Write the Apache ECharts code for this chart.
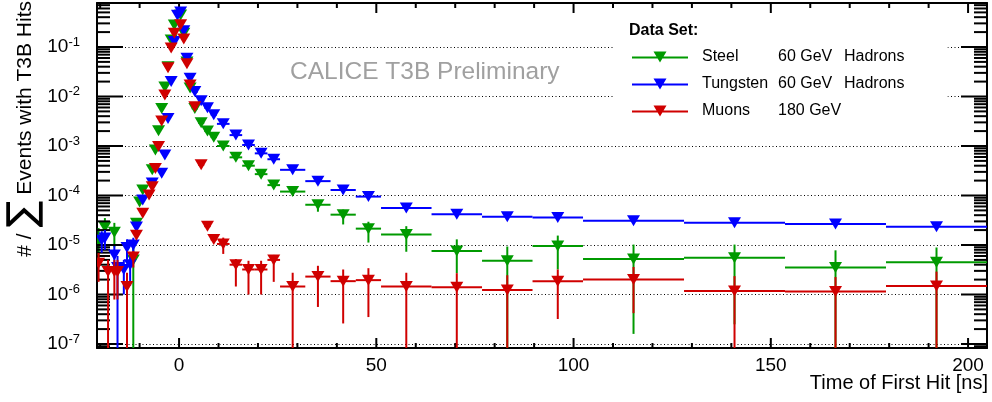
<!DOCTYPE html>
<html>
<head>
<meta charset="utf-8">
<title>T3B time of first hit</title>
<script src="https://cdn.jsdelivr.net/npm/echarts@6/dist/echarts.min.js"></script>
<style>
  html, body { margin: 0; padding: 0; background: #fff; }
  #chart { width: 992px; height: 402px; }
</style>
</head>
<body>
<div id="chart"></div>
<script>
// bin centres in ns: 0.8 ns bins up to 3.2 ns, wider bins in the tail
var fineT = [-20.4, -19.6, -18.8, -18.0, -17.2, -16.4, -15.6, -14.8, -14.0, -13.2,
             -12.4, -11.6, -10.8, -10.0, -9.2, -8.4, -7.6, -6.8, -6.0, -5.2,
             -4.4, -3.6, -2.8, -2.0, -1.2, -0.4, 0.4, 1.2, 2.0, 2.8];
var fineW = 0.8;
var tailT = [4.0, 5.6, 7.2, 8.8, 11.2, 14.4, 17.6, 20.8, 24.0, 28.8, 35.2, 41.6, 48.0,
             57.6, 70.4, 83.2, 96.0, 115.2, 140.8, 166.4, 192.0];
var tailW = [1.6, 1.6, 1.6, 1.6, 3.2, 3.2, 3.2, 3.2, 3.2, 6.4, 6.4, 6.4, 6.4,
             12.8, 12.8, 12.8, 12.8, 25.6, 25.6, 25.6, 25.6];

// Steel 60 GeV hadrons (null = empty bin, 0 = error bar reaches the axis)
var steelFine = [1.17e-5, null, 2.3e-5, null, null, 1.8e-5, null, null, null, null,
                 null, 5.0e-6, 2.75e-5, 7.4e-5, 1.29e-4, null, null, 3.3e-4, 8.3e-4, 2.04e-3,
                 5.75e-3, 1.55e-2, 4.0e-2, 0.138, 0.278, null, 0.443, 0.19, 0.05, 1.48e-2];
var steelFineLo = [4e-6, null, 1.2e-5, null, null, 9e-6, null, null, null, null,
                   null, 0, null, null, null, null, null, null, null, null,
                   null, null, null, null, null, null, null, null, null, null];
var steelFineHi = [2.2e-5, null, 3.5e-5, null, null, 2.8e-5, null, null, null, null,
                   null, 9.3e-6, null, null, null, null, null, null, null, null,
                   null, null, null, null, null, null, null, null, null, null];
var steelTail = [5.75e-3, 2.95e-3, 2.0e-3, 1.51e-3, 1.0e-3, 5.9e-4, 4.0e-4, 2.7e-4, 1.62e-4, 1.2e-4,
                 6.5e-5, 4.1e-5, 2.14e-5, 1.62e-5, 7.6e-6, 4.8e-6, 9.5e-6, 5.2e-6, 5.5e-6, 3.5e-6, 4.5e-6];
var steelTailLo = [null, null, null, null, null, null, null, null, null, null,
                   4.7e-5, 2.6e-5, 1.12e-5, 7.3e-6, 2.7e-6, 0, 3.2e-6, 1.6e-7, 2.5e-7, 0, 0];
var steelTailHi = [null, null, null, null, null, null, null, null, null, null,
                   8.1e-5, 5.2e-5, 2.95e-5, 2.4e-5, 1.3e-5, 9.3e-6, 1.55e-5, 1.02e-5, 1.02e-5, 7.8e-6, 8.9e-6];

// Tungsten 60 GeV hadrons
var tungstenFine = [null, 1.26e-5, 1.38e-5, null, null, 6.3e-6, 3.5e-6, null, 3.2e-6, 8.9e-6,
                    4.0e-6, 1.0e-5, 2.3e-5, null, 8.1e-5, null, null, 1.78e-4, null, null,
                    2.8e-4, 6.6e-4, 3.6e-3, 2.0e-2, 0.129, 0.44, 0.51, 0.214, 5.9e-2, 2.34e-2];
var tungstenFineLo = [null, 7e-6, 8e-6, null, null, 3e-6, 0, null, 1e-6, 5e-6,
                      1.5e-6, 6e-6, null, null, null, null, null, null, null, null,
                      null, null, null, null, null, null, null, null, null, null];
var tungstenFineHi = [null, 1.9e-5, 2.0e-5, null, null, 9.5e-6, 6e-6, null, 5e-6, 1.3e-5,
                      6.5e-6, 1.4e-5, null, null, null, null, null, null, null, null,
                      null, null, null, null, null, null, null, null, null, null];
var tungstenTail = [1.26e-2, 8.2e-3, 5.9e-3, 4.3e-3, 2.8e-3, 1.66e-3, 1.05e-3, 7.1e-4, 5.4e-4, 3.3e-4,
                    1.95e-4, 1.29e-4, 9.5e-5, 5.6e-5, 4.2e-5, 3.7e-5, 3.6e-5, 3.1e-5, 2.8e-5, 2.65e-5, 2.35e-5];

// Muons 180 GeV
var muonFine = [4.3e-6, null, null, 2.9e-6, null, 2.9e-6, 2.9e-6, null, null, 1.45e-6,
                null, 5.75e-6, 1.58e-5, null, 4.4e-5, null, 1.02e-4, 1.51e-4, 3.5e-4, 9.8e-4,
                3.2e-3, 1.07e-2, 3.8e-2, 9.5e-2, 0.19, null, 0.28, 0.145, 4.6e-2, 1.7e-2];
var muonFineLo = [1.8e-6, null, null, 0, null, 7.9e-7, 7.9e-7, null, null, 0,
                  null, 3.5e-6, null, null, null, null, null, null, null, null,
                  null, null, null, null, null, null, null, null, null, null];
var muonFineHi = [6.9e-6, null, null, 5e-6, null, 5e-6, 5e-6, null, null, 2.75e-6,
                  null, 7.5e-6, null, null, null, null, null, null, null, null,
                  null, null, null, null, null, null, null, null, null, null];
var muonTail = [6.2e-3, 4.2e-4, 2.4e-5, 1.29e-5, 1.05e-5, 4.0e-6, 3.2e-6, 3.2e-6, 5.0e-6, 1.45e-6,
                2.3e-6, 1.86e-6, 1.95e-6, 1.45e-6, 1.4e-6, 1.23e-6, 1.86e-6, 2.0e-6, 1.17e-6, 1.15e-6, 1.48e-6];
var muonTailLo = [null, null, null, null, 6.6e-6, 1.45e-6, 1.0e-6, 1.0e-6, 1.8e-6, 0,
                  5.6e-7, 2.6e-7, 3.5e-7, 0, 0, 0, 3.2e-7, 4.2e-7, 0, 0, 0];
var muonTailHi = [null, null, null, null, 1.41e-5, 5.2e-6, 4.8e-6, 4.8e-6, 6.3e-6, 2.75e-6,
                  3.8e-6, 3.2e-6, 3.4e-6, 2.75e-6, 2.7e-6, 2.45e-6, 3.2e-6, 3.6e-6, 2.35e-6, 2.25e-6, 2.9e-6];

var seriesNames = ['Steel', 'Tungsten', 'Muons'];
var seriesEnergy = ['60 GeV', '60 GeV', '180 GeV'];
var seriesKind = ['Hadrons', 'Hadrons', ''];
var seriesColors = ['#009a00', '#0000ff', '#d00000'];

var X_MIN = -20.8, X_MAX = 204.8;
var Y_MIN = 8.3e-8, Y_MAX = 0.774;
var FONT = '"Liberation Sans", Arial, Helvetica, sans-serif';

function pick(arr, i) { return arr ? arr[i] : null; }

function buildPoints(fine, fineLo, fineHi, tail, tailLo, tailHi) {
  var out = [];
  function add(t, w, v, lo, hi) {
    if (v == null) return;
    if (lo == null) lo = v;
    if (hi == null) hi = v;
    out.push([t, v, w, Math.max(lo, Y_MIN), hi]);
  }
  for (var i = 0; i < fineT.length; i++) add(fineT[i], fineW, fine[i], pick(fineLo, i), pick(fineHi, i));
  for (var j = 0; j < tailT.length; j++) add(tailT[j], tailW[j], tail[j], pick(tailLo, j), pick(tailHi, j));
  return out;
}

var pointSets = [
  buildPoints(steelFine, steelFineLo, steelFineHi, steelTail, steelTailLo, steelTailHi),
  buildPoints(tungstenFine, tungstenFineLo, tungstenFineHi, tungstenTail, null, null),
  buildPoints(muonFine, muonFineLo, muonFineHi, muonTail, muonTailLo, muonTailHi)
];

function renderPoint(params, api) {
  var t = api.value(0), v = api.value(1), w = api.value(2);
  var c = api.coord([t, v]);
  var xl = api.coord([t - w / 2, v])[0];
  var xr = api.coord([t + w / 2, v])[0];
  var yl = api.coord([t, api.value(3)])[1];
  var yh = api.coord([t, api.value(4)])[1];
  var color = api.visual('color');
  return {
    type: 'group',
    children: [
      { type: 'line', shape: { x1: xl, y1: c[1], x2: xr, y2: c[1] }, style: { stroke: color, lineWidth: 2 } },
      { type: 'line', shape: { x1: c[0], y1: yl, x2: c[0], y2: yh }, style: { stroke: color, lineWidth: 2 } },
      { type: 'polygon', shape: { points: [[c[0] - 6.5, c[1] - 5.5], [c[0] + 6.5, c[1] - 5.5], [c[0], c[1] + 5.5]] },
        style: { fill: color } }
    ]
  };
}

// ROOT style tick marks on all four sides
var ticks = [];
for (var tx = -20; tx <= 200; tx += 10) ticks.push([tx, Y_MIN, tx % 50 === 0 ? 10 : 5, 0]);
for (var e = -8; e <= -1; e++) {
  for (var m = 1; m <= 9; m++) {
    var tv = m * Math.pow(10, e);
    if (tv >= Y_MIN && tv <= Y_MAX) ticks.push([X_MIN, tv, m === 1 ? 26 : 13, 1]);
  }
}

function renderTick(params, api) {
  var cs = params.coordSys;
  var len = api.value(2);
  var st = { stroke: '#000', lineWidth: 2 };
  if (api.value(3) === 0) {
    var px = api.coord([api.value(0), Y_MIN])[0];
    var yb = cs.y + cs.height, yt = cs.y;
    return { type: 'group', children: [
      { type: 'line', shape: { x1: px, y1: yb, x2: px, y2: yb - len }, style: st },
      { type: 'line', shape: { x1: px, y1: yt, x2: px, y2: yt + len }, style: st }
    ] };
  }
  var py = api.coord([X_MIN, api.value(1)])[1];
  var xl = cs.x, xr = cs.x + cs.width;
  return { type: 'group', children: [
    { type: 'line', shape: { x1: xl, y1: py, x2: xl + len, y2: py }, style: st },
    { type: 'line', shape: { x1: xr, y1: py, x2: xr - len, y2: py }, style: st }
  ] };
}

var chart = echarts.init(document.getElementById('chart'));

var series = seriesNames.map(function (name, k) {
  return {
    name: name,
    type: 'custom',
    clip: true,
    itemStyle: { color: seriesColors[k] },
    renderItem: renderPoint,
    encode: { x: 0, y: 1 },
    data: pointSets[k],
    z: 3 + k
  };
});
series.push({
  type: 'custom',
  renderItem: renderTick,
  encode: { x: 0, y: 1 },
  data: ticks,
  silent: true,
  z: 3
});

var option = {
  animation: false,
  backgroundColor: '#fff',
  textStyle: { fontFamily: FONT },
  grid: { left: 97, right: 5, top: 3, bottom: 54, containLabel: false, outerBoundsMode: 'none' },
  xAxis: [{
    type: 'value',
    min: X_MIN,
    max: X_MAX,
    axisLine: { onZero: false, lineStyle: { color: '#000', width: 2 } },
    axisTick: { show: false },
    splitLine: { show: false },
    axisLabel: {
      color: '#000', fontSize: 19, fontFamily: FONT, margin: 8,
      formatter: function (v) { return Math.abs(v % 50) < 1e-9 ? String(v) : ''; }
    }
  }, {
    type: 'value',
    position: 'top',
    min: X_MIN,
    max: X_MAX,
    axisLine: { onZero: false, lineStyle: { color: '#000', width: 2 } },
    axisTick: { show: false },
    axisLabel: { show: false },
    splitLine: { show: false }
  }],
  yAxis: [{
    type: 'log',
    logBase: 10,
    min: Y_MIN,
    max: Y_MAX,
    axisLine: { show: true, onZero: false, lineStyle: { color: '#000', width: 2 } },
    axisTick: { show: false },
    splitLine: { show: true, lineStyle: { color: '#000', width: 1, type: [1, 2.5] } },
    axisLabel: {
      color: '#000', margin: 17,
      formatter: function (v) {
        var lg = Math.log10(v), ex = Math.round(lg);
        if (Math.abs(lg - ex) > 1e-6) return '';
        return '{b|10}{s|' + ex + '}';
      },
      rich: {
        b: { fontSize: 19, fontFamily: FONT, color: '#000' },
        s: { fontSize: 13, fontFamily: FONT, color: '#000', padding: [0, 0, 10, 0] }
      }
    }
  }, {
    type: 'log',
    logBase: 10,
    position: 'right',
    min: Y_MIN,
    max: Y_MAX,
    axisLine: { show: true, onZero: false, lineStyle: { color: '#000', width: 2 } },
    axisTick: { show: false },
    axisLabel: { show: false },
    splitLine: { show: false }
  }],
  legend: {
    data: seriesNames,
    orient: 'vertical',
    left: 615,
    top: 15,
    padding: [32, 43, 5, 17],
    backgroundColor: '#fff',
    itemWidth: 56,
    itemHeight: 12,
    itemGap: 7,
    icon: 'path://M0,5 L56,5 L56,7 L0,7 Z M21.5,0 L34.5,0 L28,11 Z',
    selectedMode: false,
    textStyle: {
      color: '#000', fontSize: 16, fontFamily: FONT, lineHeight: 20,
      rich: {
        a: { fontSize: 16, fontFamily: FONT, width: 76, padding: [0, 0, 0, 9] },
        b: { fontSize: 16, fontFamily: FONT, width: 66 },
        c: { fontSize: 16, fontFamily: FONT }
      }
    },
    formatter: function (name) {
      var k = seriesNames.indexOf(name);
      return '{a|' + name + '}{b|' + seriesEnergy[k] + '}{c|' + seriesKind[k] + '}';
    }
  },
  graphic: [{
    type: 'text',
    left: 629,
    top: 23,
    z: 20,
    style: { text: 'Data Set:', fill: '#000', font: 'bold 16px ' + FONT }
  }, {
    type: 'text',
    left: 290,
    top: 60,
    z: 20,
    style: { text: 'CALICE T3B Preliminary', fill: '#a0a0a0', font: '24.5px ' + FONT }
  }, {
    type: 'text',
    right: 4,
    top: 373,
    z: 20,
    style: { text: 'Time of First Hit [ns]', fill: '#000', font: '20px ' + FONT }
  }, {
    type: 'text',
    x: 25,
    y: 1,
    rotation: Math.PI / 2,
    z: 20,
    style: {
      text: '{t|# / }{s|\u2211}{t| Events with T3B Hits}',
      align: 'right',
      verticalAlign: 'middle',
      textAlign: 'right',
      textVerticalAlign: 'middle',
      fill: '#000',
      rich: {
        t: { fontSize: 21, fontFamily: FONT, fill: '#000' },
        s: { fontSize: 40, fontFamily: '"DejaVu Sans", sans-serif', fill: '#000' }
      }
    }
  }],
  series: series
};

chart.setOption(option);
</script>
</body>
</html>
